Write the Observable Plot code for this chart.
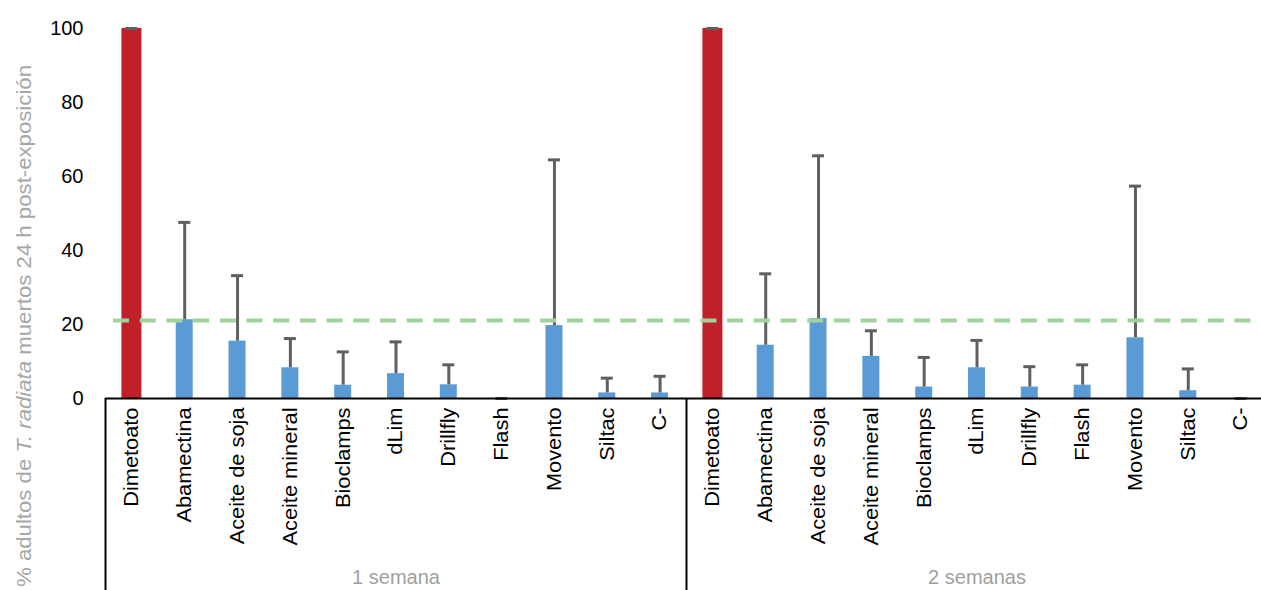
<!DOCTYPE html>
<html>
<head>
<meta charset="utf-8">
<script src="https://cdn.jsdelivr.net/npm/d3@7"></script>
<script src="https://cdn.jsdelivr.net/npm/@observablehq/plot@0.6"></script>
<style>
  html, body { margin: 0; padding: 0; background: #fff; }
  #chart { width: 1261px; height: 590px; overflow: hidden; }
</style>
</head>
<body>
<div id="chart"></div>
<script>
const groups = ["1 semana", "2 semanas"];
const treatments = ["Dimetoato", "Abamectina", "Aceite de soja", "Aceite mineral", "Bioclamps", "dLim", "Drillfly", "Flash", "Movento", "Siltac", "C-"];
const week1Mean  = [100, 21.3, 15.5, 8.3, 3.6, 6.7, 3.7, 0, 19.7, 1.5, 1.5];
const week1Upper = [100, 47.6, 33.2, 16.2, 12.6, 15.3, 9.1, 0, 64.5, 5.5, 6.0];
const week2Mean  = [100, 14.4, 21.6, 11.4, 3.1, 8.3, 3.1, 3.6, 16.4, 2.1, 0];
const week2Upper = [100, 33.7, 65.6, 18.3, 11.1, 15.7, 8.6, 9.1, 57.4, 8.0, 0];
const threshold = [21.1];
const yTicks = [0, 20, 40, 60, 80, 100];
const yLabelParts = [["% adultos de ", "normal"], ["T. radiata", "italic"], [" muertos 24 h post-exposición", "normal"]];

const means = [week1Mean, week2Mean];
const uppers = [week1Upper, week2Upper];
const data = [];
groups.forEach((g, gi) => {
  treatments.forEach((t, ti) => {
    data.push({key: g + "|" + t, group: g, treatment: t, mean: means[gi][ti], upper: uppers[gi][ti]});
  });
});
const keys = data.map(d => d.key);
const firstKeys = groups.map(g => g + "|" + treatments[0]);
const midKeys = groups.map(g => g + "|" + treatments[Math.floor(treatments.length / 2)]);

const W = 1261, H = 590, mL = 105, mR = -6, mT = 28, mB = 192;
const step = (W - mL - mR) / keys.length;
const font = "'Liberation Sans', Arial, sans-serif";
const hInset = w => ({insetLeft: (step - w) / 2, insetRight: (step - w) / 2});

const plot = Plot.plot({
  width: W, height: H,
  marginLeft: mL, marginRight: mR, marginTop: mT, marginBottom: mB,
  style: {fontFamily: font, fontSize: "20px", color: "#000", background: "#fff", overflow: "visible"},
  x: {domain: keys, padding: 0, round: false},
  y: {domain: [0, 100]},
  marks: [
    Plot.barY(data.filter(d => d.treatment === treatments[0]), {x: "key", y: "mean", fill: "#c0202a", ...hInset(20)}),
    Plot.barY(data.filter(d => d.treatment !== treatments[0]), {x: "key", y: "mean", fill: "#5b9bd5", ...hInset(17)}),
    Plot.ruleX(data.filter(d => d.upper > d.mean), {x: "key", y1: "mean", y2: "upper", stroke: "#5f5f5f", strokeWidth: 3}),
    Plot.tickY(data, {x: "key", y: "upper", stroke: "#5f5f5f", strokeWidth: 3, ...hInset(12)}),
    Plot.ruleY(threshold, {stroke: "#9fd39b", strokeWidth: 4, strokeDasharray: "16,10.7", insetLeft: 8, insetRight: 16}),
    Plot.ruleY([0], {stroke: "#000", strokeWidth: 2}),
    Plot.ruleX(firstKeys, {x: d => d, y1: 0, y2: -52, dx: -step / 2, stroke: "#000", strokeWidth: 2}),
    Plot.text(midKeys, {x: d => d, y: 0, dy: 179, text: d => d.split("|")[0], fill: "#a0a0a0", fontSize: 20}),
    Plot.axisY({ticks: yTicks, tickSize: 0, tickPadding: 22, fontSize: 20, label: null}),
    Plot.axisX({tickRotate: -90, tickSize: 0, tickPadding: 9, fontSize: 20, label: null, tickFormat: k => k.split("|")[1], ariaLabel: "x-axis"})
  ]
});

const svg = d3.select(plot);
// stretch the rotated category labels along their reading direction, as in the reference
svg.selectAll('g[aria-label="x-axis tick label"] text').each(function() {
  const t = this.getAttribute("transform") || "";
  this.setAttribute("transform", t + " scale(1.09,1)");
});
const lbl = svg.append("text")
  .attr("transform", `translate(31,326) rotate(-90) scale(1.11,1)`)
  .attr("text-anchor", "middle")
  .attr("fill", "#a6a6a6")
  .attr("font-family", font)
  .attr("font-size", 20);
yLabelParts.forEach(([t, s]) => lbl.append("tspan").attr("font-style", s).text(t));

document.getElementById("chart").appendChild(plot);
</script>
</body>
</html>
